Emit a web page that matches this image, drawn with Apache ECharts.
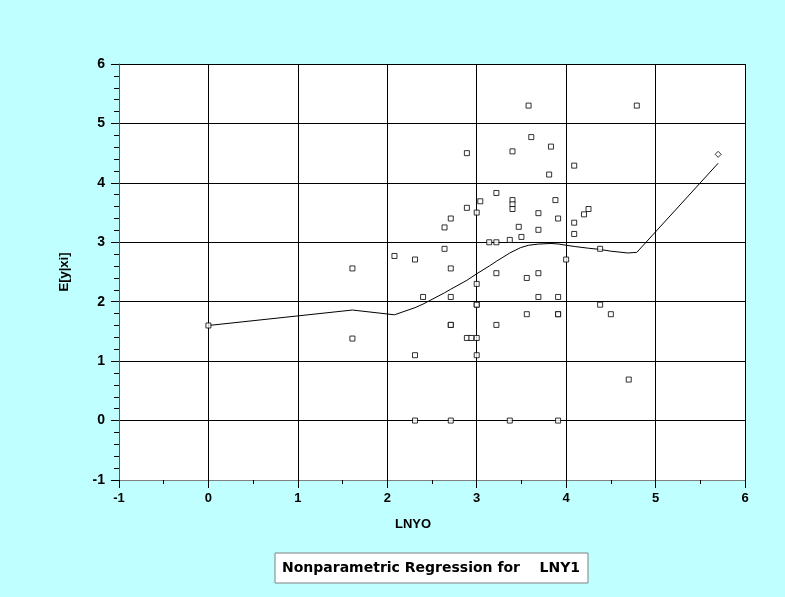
<!DOCTYPE html>
<html>
<head>
<meta charset="utf-8">
<script src="https://cdn.jsdelivr.net/npm/echarts@6/dist/echarts.min.js"></script>
<style>
html,body{margin:0;padding:0;background:#C0FFFF;}
#chart{width:785px;height:597px;}
</style>
</head>
<body>
<div id="chart"></div>
<script>
// Observed scatter points (LNYO, LNY1)
const pointX = [0.00,1.61,1.61,2.08,2.31,2.31,2.31,2.40,2.64,2.64,2.71,2.71,2.71,2.71,2.71,2.71,2.89,2.89,2.89,2.94,3.00,3.00,3.00,3.00,3.00,3.00,3.04,3.14,3.22,3.22,3.22,3.22,3.37,3.37,3.40,3.40,3.40,3.40,3.47,3.50,3.56,3.56,3.58,3.61,3.69,3.69,3.69,3.69,3.81,3.83,3.88,3.91,3.91,3.91,3.91,3.91,4.00,4.09,4.09,4.09,4.20,4.25,4.38,4.38,4.50,4.70,4.79];
const pointY = [1.60,2.56,1.38,2.77,2.71,1.10,0.00,2.08,3.25,2.89,3.40,2.56,2.08,1.61,1.61,0.00,4.50,3.58,1.39,1.39,3.50,2.30,1.95,1.95,1.39,1.10,3.69,3.00,3.83,3.00,2.48,1.61,3.04,0.00,4.53,3.71,3.64,3.56,3.26,3.09,2.40,1.79,5.30,4.77,3.49,3.21,2.48,2.08,4.14,4.61,3.71,3.40,2.08,1.79,1.79,0.00,2.71,4.29,3.33,3.14,3.47,3.56,2.89,1.95,1.79,0.69,5.30];
// Nonparametric regression fit
const fitX = [0.00,1.61,2.08,2.31,2.40,2.64,2.71,2.89,3.00,3.14,3.22,3.37,3.49,3.58,3.69,3.83,3.92,4.00,4.09,4.25,4.38,4.50,4.69,4.79,5.70];
const fitY = [1.60,1.86,1.78,1.90,1.96,2.15,2.21,2.36,2.47,2.60,2.68,2.82,2.91,2.95,2.97,2.98,2.97,2.95,2.93,2.90,2.88,2.85,2.82,2.83,4.33];
// Extra point
const diamondX = [5.70];
const diamondY = [4.48];
// Axis settings
const xRange = [-1, 6];
const yRange = [-1, 6];
const titleText = 'Nonparametric Regression for    LNY1';
const xName = 'LNYO';
const yName = 'E[y|xi]';

const font = '"Liberation Sans", Arial, sans-serif';
const chart = echarts.init(document.getElementById('chart'));
const zip = (a, b) => a.map((v, i) => [v, b[i]]);

chart.setOption({
  backgroundColor: '#C0FFFF',
  animation: false,
  grid: {left: 119, top: 64, right: 40, bottom: 117, show: true, backgroundColor: '#ffffff', borderWidth: 0},
  xAxis: {
    type: 'value', min: xRange[0], max: xRange[1], interval: 1,
    name: xName, nameLocation: 'middle', nameGap: 38,
    nameTextStyle: {fontFamily: font, fontWeight: 'bold', fontSize: 13, color: '#000', padding: [0, 38, 0, 0]},
    axisLine: {show: true, onZero: false, lineStyle: {color: '#808080', width: 1}},
    axisTick: {show: true, inside: false, length: 8, lineStyle: {color: '#000'}},
    minorTick: {show: true, splitNumber: 2, length: 4, lineStyle: {color: '#000'}},
    axisLabel: {fontFamily: font, fontWeight: 'bold', fontSize: 13, color: '#000', margin: 12},
    splitLine: {show: true, lineStyle: {color: '#000', width: 1}}
  },
  yAxis: {
    type: 'value', min: yRange[0], max: yRange[1], interval: 1,
    name: yName, nameLocation: 'middle', nameGap: 48, nameRotate: 90,
    nameTextStyle: {fontFamily: font, fontWeight: 'bold', fontSize: 13, color: '#000'},
    axisLine: {show: true, onZero: false, lineStyle: {color: '#555', width: 1}},
    axisTick: {show: true, inside: false, length: 8, lineStyle: {color: '#000'}},
    minorTick: {show: true, splitNumber: 5, length: 5, lineStyle: {color: '#000'}},
    axisLabel: {fontFamily: font, fontWeight: 'bold', fontSize: 14, color: '#000', margin: 14},
    splitLine: {show: true, lineStyle: {color: '#000', width: 1}}
  },
  graphic: [
    {type: 'rect', z: 10, shape: {x: 275, y: 553, width: 313, height: 30},
     style: {fill: '#ffffff', stroke: '#808080', lineWidth: 1}},
    {type: 'text', z: 11, x: 431, y: 568,
     style: {text: titleText, textAlign: 'center', textVerticalAlign: 'middle',
             font: 'bold 14px "DejaVu Sans", sans-serif', fill: '#000'}}
  ],
  series: [
    {type: 'line', data: zip(fitX, fitY), showSymbol: false, symbol: 'none',
     lineStyle: {color: '#000', width: 1}, z: 3},
    {type: 'scatter', data: zip(pointX, pointY), symbol: 'rect', symbolSize: 5,
     itemStyle: {color: '#ffffff', borderColor: '#000', borderWidth: 1}, z: 4},
    {type: 'scatter', data: zip(diamondX, diamondY), symbol: 'diamond', symbolSize: 6,
     itemStyle: {color: '#ffffff', borderColor: '#000', borderWidth: 1}, z: 4}
  ]
});
</script>
</body>
</html>
